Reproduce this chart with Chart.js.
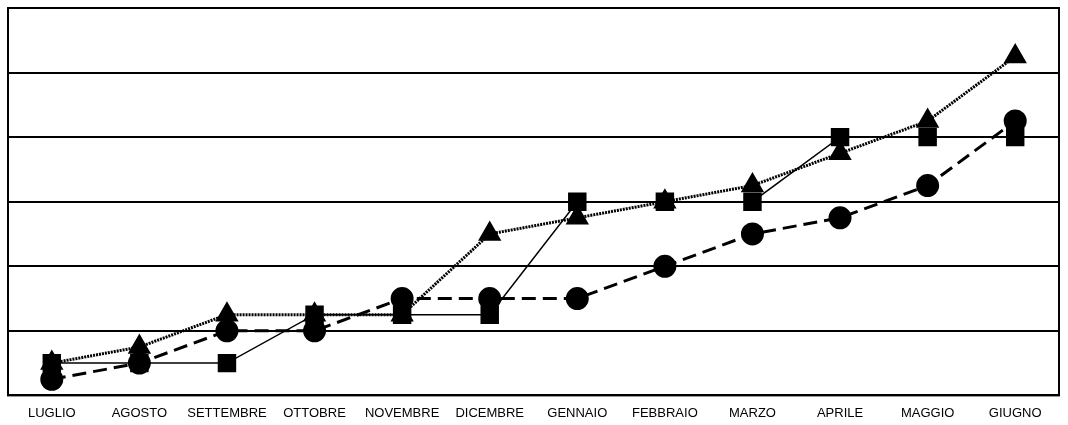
<!DOCTYPE html>
<html>
<head>
<meta charset="utf-8">
<script src="https://cdn.jsdelivr.net/npm/chart.js@4/dist/chart.umd.min.js"></script>
<style>
  body { margin: 0; background: #fff; }
  #wrap { width: 1068px; height: 425px; }
</style>
</head>
<body>
<div id="wrap"><canvas id="myChart" width="1068" height="425"></canvas></div>
<script>
// mesi
var mesi = ["LUGLIO", "AGOSTO", "SETTEMBRE", "OTTOBRE", "NOVEMBRE", "DICEMBRE",
            "GENNAIO", "FEBBRAIO", "MARZO", "APRILE", "MAGGIO", "GIUGNO"];

// serie
var serieTriangoli = [0.5, 0.75, 1.25, 1.25, 1.25, 2.5, 2.75, 3, 3.25, 3.75, 4.25, 5.25];
var serieQuadrati  = [0.5, 0.5, 0.5, 1.25, 1.25, 1.25, 3, 3, 3, 4, 4, 4];
var serieCerchi    = [0.25, 0.5, 1, 1, 1.5, 1.5, 1.5, 2, 2.5, 2.75, 3.25, 4.25];

// bordo dell'area del grafico
var bordoArea = {
    id: 'bordoArea',
    afterDraw: function(chart) {
        var a = chart.chartArea;
        var ctx = chart.ctx;
        ctx.save();
        ctx.strokeStyle = '#000';
        ctx.lineWidth = 2;
        ctx.strokeRect(a.left, a.top, a.right - a.left, a.bottom - a.top);
        ctx.restore();
    }
};

var ctx = document.getElementById('myChart').getContext('2d');
var myChart = new Chart(ctx, {
    type: 'line',
    data: {
        labels: mesi,
        datasets: [{
            data: serieCerchi,
            borderColor: '#000',
            backgroundColor: '#000',
            borderWidth: 3,
            borderDash: [14, 7],
            pointStyle: 'circle',
            pointRadius: 10,
            pointHoverRadius: 10
        }, {
            data: serieQuadrati,
            borderColor: '#000',
            backgroundColor: '#000',
            borderWidth: 1.5,
            pointStyle: 'rect',
            pointRadius: 12,
            pointHoverRadius: 12
        }, {
            data: serieTriangoli,
            borderColor: '#000',
            backgroundColor: '#000',
            borderWidth: 3,
            borderDash: [2, 1],
            pointStyle: 'triangle',
            pointRadius: 10.5,
            pointHoverRadius: 10.5
        }]
    },
    options: {
        responsive: false,
        animation: false,
        layout: { autoPadding: false, padding: { left: 8, top: 8, right: 9, bottom: -6 } },
        plugins: {
            legend: { display: false },
            tooltip: { enabled: false }
        },
        scales: {
            x: {
                offset: true,
                grid: { display: false, drawTicks: false },
                border: { display: false },
                ticks: {
                    color: '#000',
                    padding: 10,
                    maxRotation: 0,
                    autoSkip: false,
                    font: { family: 'Liberation Sans', size: 13 }
                }
            },
            y: {
                min: 0,
                max: 6,
                ticks: { display: false, stepSize: 1 },
                grid: { color: '#000', lineWidth: 2, drawTicks: false },
                border: { display: false }
            }
        }
    },
    plugins: [bordoArea]
});
</script>
</body>
</html>
